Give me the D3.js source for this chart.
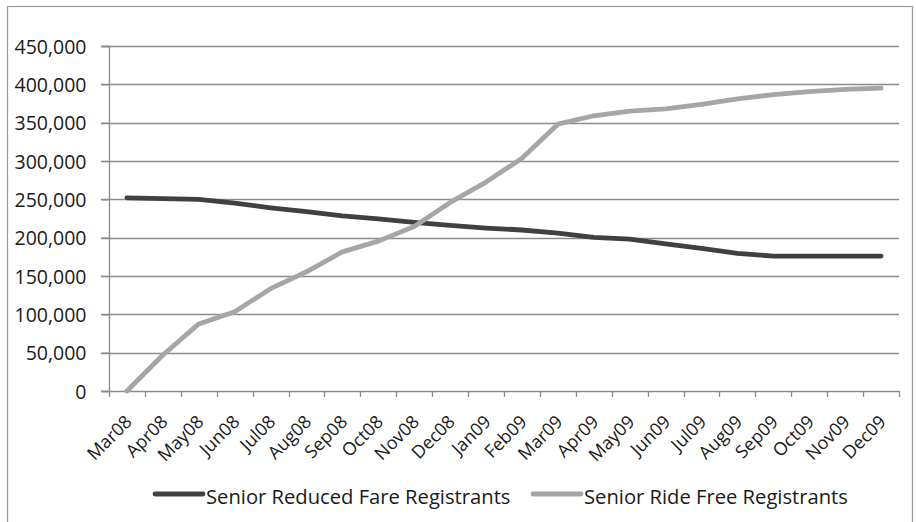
<!DOCTYPE html>
<html>
<head>
<meta charset="utf-8">
<script src="https://cdn.jsdelivr.net/npm/d3@7"></script>
<style>
  html, body { margin: 0; padding: 0; background: #fff; }
  svg { display: block; }
  text { font-family: "Open Sans", Lato, sans-serif; fill: #1a1a1a; }
</style>
</head>
<body>
<svg id="chart" width="916" height="522"></svg>
<script>
const months = ["Mar08","Apr08","May08","Jun08","Jul08","Aug08","Sep08","Oct08","Nov08","Dec08","Jan09","Feb09","Mar09","Apr09","May09","Jun09","Jul09","Aug09","Sep09","Oct09","Nov09","Dec09"];
const reducedFare = [252000, 251000, 250000, 245000, 239000, 234000, 228500, 224500, 220000, 216000, 212500, 210000, 206000, 200500, 198000, 192000, 186000, 179500, 176000, 176000, 176000, 176000];
const rideFree = [0, 47000, 87500, 103500, 133500, 155500, 181500, 195500, 214500, 246000, 272500, 303500, 348000, 359000, 365000, 368000, 374000, 381000, 386500, 390500, 393500, 395000];
const yTicks = [0, 50000, 100000, 150000, 200000, 250000, 300000, 350000, 400000, 450000];
const seriesNames = ["Senior Reduced Fare Registrants", "Senior Ride Free Registrants"];
const seriesColors = ["#404040", "#a6a6a6"];

(function () {
const svg = d3.select("#chart");
const gridColor = "#8c8c8c";

// outer frame
svg.append("rect")
  .attr("x", 7.5).attr("y", 6.5).attr("width", 905).attr("height", 540)
  .attr("fill", "none").attr("stroke", "#9a9a9a").attr("stroke-width", 1.2);

const pLeft = 109, pRight = 899, pTop = 46, pBottom = 391;
const x = d3.scaleBand().domain(months).range([pLeft, pRight]).padding(0);
const y = d3.scaleLinear().domain([0, 450000]).range([pBottom, pTop]);

// gridlines
svg.append("g").selectAll("line").data(yTicks.filter(d => d > 0)).join("line")
  .attr("x1", pLeft - 8).attr("x2", pRight)
  .attr("y1", d => Math.round(y(d)) + 0.5).attr("y2", d => Math.round(y(d)) + 0.5)
  .attr("stroke", gridColor).attr("stroke-width", 1.3);

// y axis
const yAxis = svg.append("g").attr("transform", `translate(${pLeft + 0.5},0)`)
  .call(d3.axisLeft(y).tickValues(yTicks).tickSize(8).tickPadding(15).tickFormat(d3.format(",")));
yAxis.select(".domain").attr("stroke", gridColor).attr("stroke-width", 1.3).attr("d", `M-8,${pBottom + 0.5}H0V${pTop + 0.5}H-8`);
yAxis.selectAll(".tick line").attr("stroke", gridColor).attr("stroke-width", 1.3);
yAxis.selectAll(".tick text").style("font-size", "19.5px").attr("fill", "#1a1a1a").attr("dy", "0.36em");

// x axis line + boundary ticks
const xg = svg.append("g");
xg.append("line").attr("x1", pLeft - 8).attr("x2", pRight).attr("y1", pBottom + 0.5).attr("y2", pBottom + 0.5)
  .attr("stroke", gridColor).attr("stroke-width", 1.3);
const bounds = months.map(m => x(m)).concat([x.range()[1]]);
xg.selectAll("line.tk").data(bounds).join("line").attr("class", "tk")
  .attr("x1", d => Math.round(d) + 0.5).attr("x2", d => Math.round(d) + 0.5)
  .attr("y1", pBottom).attr("y2", pBottom + 6)
  .attr("stroke", gridColor).attr("stroke-width", 1.3);

// x labels
const xAxis = svg.append("g").attr("transform", `translate(0,${pBottom})`)
  .call(d3.axisBottom(x).tickSize(0).tickPadding(0));
xAxis.select(".domain").remove();
xAxis.selectAll(".tick text")
  .style("font-size", "18px").attr("fill", "#1a1a1a")
  .attr("text-anchor", "end")
  .attr("x", 0).attr("y", 0).attr("dy", 0)
  .attr("transform", "translate(6,32) rotate(-45)");

// lines
const line = d3.line().x((d, i) => x(months[i]) + x.bandwidth() / 2).y(d => y(d));
[reducedFare, rideFree].forEach((s, k) => {
  svg.append("path").datum(s).attr("d", line)
    .attr("fill", "none").attr("stroke", seriesColors[k]).attr("stroke-width", 4.8)
    .attr("stroke-linejoin", "round").attr("stroke-linecap", "round");
});

// legend
const legendItems = [{x: 155, name: seriesNames[0], color: seriesColors[0]}, {x: 533, name: seriesNames[1], color: seriesColors[1]}];
const lg = svg.append("g");
legendItems.forEach(it => {
  lg.append("line").attr("x1", it.x).attr("x2", it.x + 48).attr("y1", 494).attr("y2", 494)
    .attr("stroke", it.color).attr("stroke-width", 4.8).attr("stroke-linecap", "round");
  lg.append("text").attr("x", it.x + 51).attr("y", 504).style("font-size", "20.2px").text(it.name);
});
})();
</script>
</body>
</html>
